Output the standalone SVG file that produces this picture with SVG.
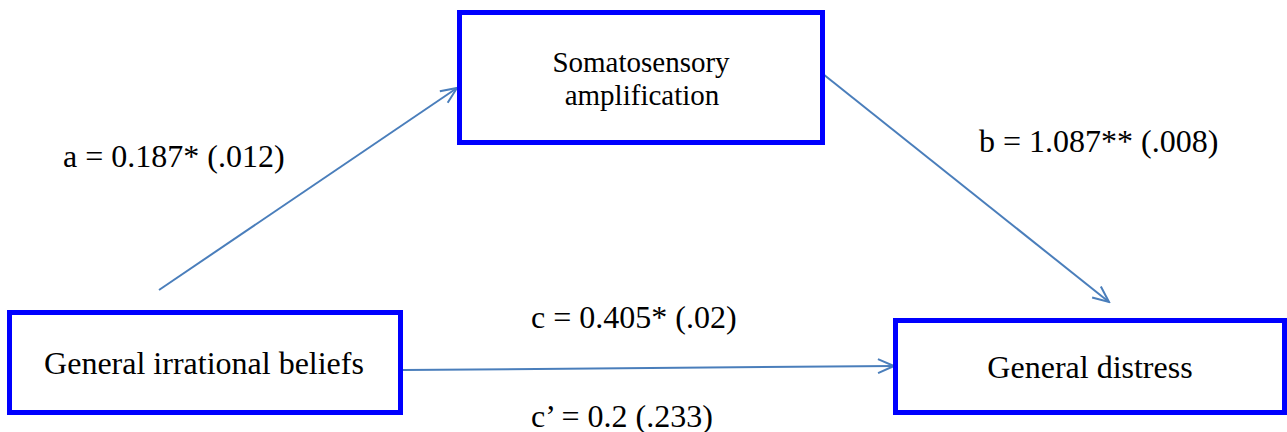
<svg xmlns="http://www.w3.org/2000/svg" width="1287" height="432" viewBox="0 0 1287 432">
<style>
.box{fill:#fff;stroke:#0000ff;stroke-width:5}
.conn{stroke:#4a7ebb;stroke-width:2;fill:none}
</style>
<defs>
<marker id="ah" viewBox="0 0 20 20" refX="18" refY="10" markerWidth="20" markerHeight="20" markerUnits="userSpaceOnUse" orient="auto">
<path d="M2,3 L18,10 L2,17" fill="none" stroke="#4a7ebb" stroke-width="2"/>
</marker>
</defs>
<rect width="1287" height="432" fill="#fff"/>
<g font-family="'Liberation Serif', 'Times New Roman', Tinos, 'DejaVu Serif', serif" fill="#000">
<g id="connectors">
<line class="conn" x1="159" y1="290" x2="457" y2="88" marker-end="url(#ah)"/>
<line class="conn" x1="823" y1="74" x2="1109" y2="302" marker-end="url(#ah)"/>
<line class="conn" x1="403" y1="370" x2="894" y2="366" marker-end="url(#ah)"/>
<text x="63" y="167" font-size="32">a = 0.187* (.012)</text>
<text x="979" y="152" font-size="32">b = 1.087** (.008)</text>
<text x="531" y="328" font-size="32">c = 0.405* (.02)</text>
<text x="531" y="427" font-size="32">c’ = 0.2 (.233)</text>
</g>
<g id="node-somatosensory">
<rect class="box" x="459.5" y="12.5" width="363" height="130"/>
<text x="641" y="72" font-size="29" text-anchor="middle">Somatosensory</text>
<text x="642" y="105" font-size="29" text-anchor="middle">amplification</text>
</g>
<g id="node-irrational">
<rect class="box" x="9.5" y="312.5" width="391" height="100"/>
<text x="204" y="374" font-size="32" text-anchor="middle">General irrational beliefs</text>
</g>
<g id="node-distress">
<rect class="box" x="895.5" y="320.5" width="389" height="92"/>
<text x="1090" y="378" font-size="32" text-anchor="middle">General distress</text>
</g>
</g>
</svg>
